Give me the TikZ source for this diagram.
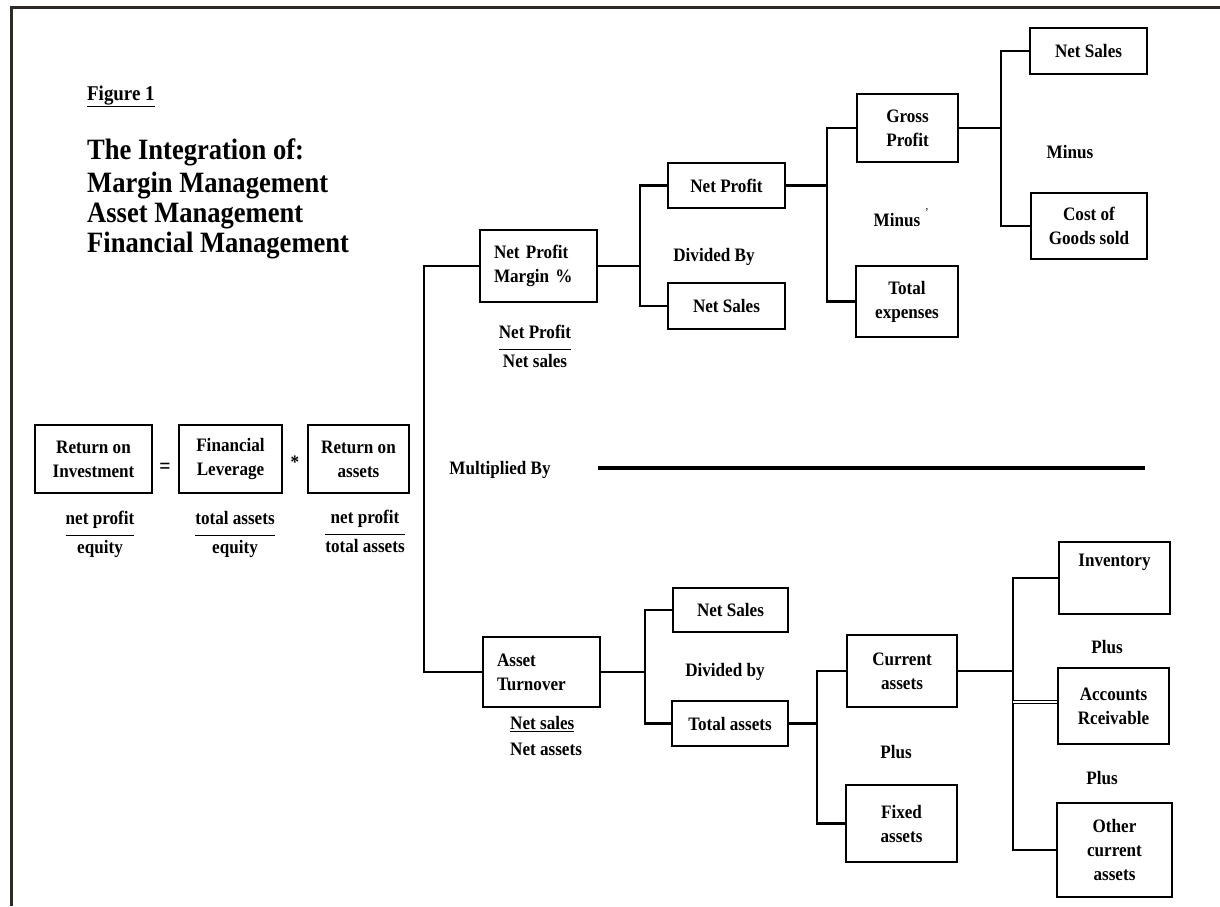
\documentclass[tikz,border=0pt]{standalone}
\usepackage{fontspec}
\setmainfont{Liberation Serif}[FakeStretch=0.9]
\definecolor{framecol}{HTML}{2E2A26}
\newcommand\mybodyfont{\bfseries\fontsize{19}{24}\selectfont}
\newcommand\mytitlefont{\bfseries\fontsize{29.5}{30}\selectfont}
\newcommand\myfigfont{\bfseries\fontsize{21}{24}\selectfont}
\newcommand\myfrac[2]{\setlength\arrayrulewidth{1.6pt}\renewcommand\arraystretch{1.05}\begin{tabular}{@{}c@{}}#1\\[3pt]\hline #2\end{tabular}}
\begin{document}
\begin{tikzpicture}[x=1pt,y=-1pt,
  box/.style={draw, line width=2.3pt, inner sep=3pt, align=center, font=\mybodyfont},
  lbl/.style={inner sep=0pt, font=\mybodyfont},
  conn/.style={line width=2.4pt}]
\useasboundingbox (0,0) rectangle (1220,906);
% frame
\coordinate (fr1) at (11,906); \coordinate (fr2) at (11,7); \coordinate (fr3) at (1220,7);
\draw[line width=3pt, framecol] (fr1) -- (fr2) -- (fr3);
% title
\node[lbl, anchor=base west, font=\myfigfont] (fig) at (87,100) {\underline{Figure 1}};
\node[lbl, anchor=base west, font=\mytitlefont] (t1) at (87,159) {The Integration of:};
\node[lbl, anchor=base west, font=\mytitlefont] (t2) at (87,192) {Margin Management};
\node[lbl, anchor=base west, font=\mytitlefont] (t3) at (87,222) {Asset Management};
\node[lbl, anchor=base west, font=\mytitlefont] (t4) at (87,252) {Financial Management};
% formula
\node[box, minimum width=117pt, minimum height=68pt] (roi) at (93.5,459) {Return on\\Investment};
\node[lbl, font=\bfseries\fontsize{22}{24}\selectfont] (eq) at (165,468) {=};
\node[box, minimum width=103pt, minimum height=68pt] (lev) at (230.5,459) {Financial\\Leverage};
\node[lbl] (times) at (295,462) {*};
\node[box, minimum width=101pt, minimum height=68pt] (roa) at (358.5,459) {Return on\\assets};
\node[lbl] (f1) at (100,534) {\myfrac{net profit}{equity}};
\node[lbl] (f2) at (235,534) {\myfrac{total assets}{equity}};
\node[lbl] (f3) at (365,533) {\myfrac{net profit}{total assets}};
% upper branch
\node[box, align=left, inner xsep=14pt, text width=89pt, minimum height=72pt] (npm) at (538.5,266) {Net Profit\\Margin \%};
\node[lbl] (f4) at (535,348) {\myfrac{Net Profit}{Net sales}};
\node[box, minimum width=117pt, minimum height=45pt] (np) at (726.5,185.5) {Net Profit};
\node[lbl] (div1) at (714,257) {Divided By};
\node[box, minimum width=117pt, minimum height=46pt] (ns1) at (726.5,306) {Net Sales};
\node[box, minimum width=101pt, minimum height=68pt] (gp) at (907.5,128) {Gross\\Profit};
\node[lbl] (min1) at (897,220) {Minus};
\node[lbl, font=\fontsize{12}{12}\selectfont] (apos) at (927,213) {'};
\node[box, minimum width=102pt, minimum height=71pt] (te) at (907,301.5) {Total\\expenses};
\node[box, minimum width=117pt, minimum height=46pt] (ns2) at (1088.5,51) {Net Sales};
\node[lbl] (min2) at (1070,152) {Minus};
\node[box, minimum width=116pt, minimum height=66pt] (cogs) at (1089,226) {Cost of\\Goods sold};
% multiplied by
\node[lbl] (mult) at (500,470) {Multiplied By};
\coordinate (ml1) at (598,468); \coordinate (ml2) at (1145,468);
\draw[line width=4.5pt] (ml1) -- (ml2);
% lower branch
\node[box, align=left, inner xsep=14pt, text width=89pt, minimum height=70pt] (at) at (541.5,672) {Asset\\Turnover};
\node[lbl, anchor=north west] (f5) at (510,712) {\renewcommand\arraystretch{1.05}\begin{tabular}{@{}l@{}}\underline{Net sales}\\Net assets\end{tabular}};
\node[box, minimum width=115pt, minimum height=44pt] (ns3) at (730.5,610) {Net Sales};
\node[lbl] (div2) at (725,672) {Divided by};
\node[box, minimum width=116pt, minimum height=45pt] (ta) at (730,723.5) {Total assets};
\node[box, minimum width=110pt, minimum height=72pt] (ca) at (902,671) {Current\\assets};
\node[lbl] (plus1) at (896,752) {Plus};
\node[box, minimum width=111pt, minimum height=77pt] (fa) at (901.5,823.5) {Fixed\\assets};
\node[box, minimum width=111pt, inner ysep=4pt, text height=20pt, text depth=44pt] (inv) at (1114.5,578) {Inventory};
\node[lbl] (plus2) at (1107,647) {Plus};
\node[box, minimum width=111pt, minimum height=76pt] (ar) at (1113.5,706) {Accounts\\Rceivable};
\node[lbl] (plus3) at (1102,778) {Plus};
\node[box, minimum width=115pt, minimum height=94pt] (oca) at (1114.5,850) {Other\\current\\assets};
% junctions
\coordinate (J0) at (424,0);
\coordinate (J1) at (640,0);
\coordinate (J2) at (827,0);
\coordinate (J3) at (1001,0);
\coordinate (J4) at (645,0);
\coordinate (J5) at (817,0);
\coordinate (J6) at (1013,0);
% connectors
\draw[conn] (npm.west) -- (npm.west -| J0) -- (at.west -| J0) -- (at.west);
\draw[conn] (npm.east) -- (npm.east -| J1);
\draw[conn] (np.west) -- (np.west -| J1) -- (ns1.west -| J1) -- (ns1.west);
\draw[conn] (np.east) -- (np.east -| J2);
\draw[conn] (gp.west) -- (gp.west -| J2) -- (te.west -| J2) -- (te.west);
\draw[conn] (gp.east) -- (gp.east -| J3);
\draw[conn] (ns2.west) -- (ns2.west -| J3) -- (cogs.west -| J3) -- (cogs.west);
\draw[conn] (at.east) -- (at.east -| J4);
\draw[conn] (ns3.west) -- (ns3.west -| J4) -- (ta.west -| J4) -- (ta.west);
\draw[conn] (ta.east) -- (ta.east -| J5);
\draw[conn] (ca.west) -- (ca.west -| J5) -- (fa.west -| J5) -- (fa.west);
\draw[conn] (ca.east) -- (ca.east -| J6);
\draw[conn] (inv.west) -- (inv.west -| J6) -- (oca.west -| J6) -- (oca.west);
\draw[line width=1.4pt, double, double distance=1.4pt] ([yshift=4pt]ar.west) -- ([yshift=4pt]ar.west -| J6);
\end{tikzpicture}
\end{document}
